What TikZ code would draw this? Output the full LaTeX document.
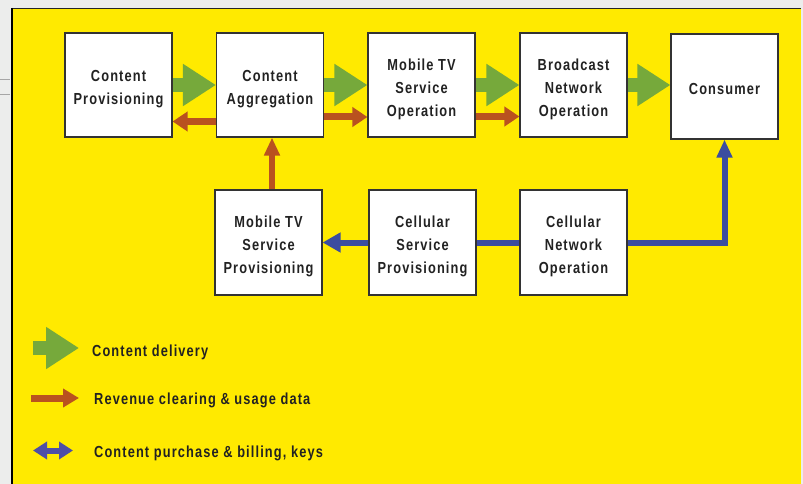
\documentclass[tikz,border=0pt]{standalone}
\usepackage{fontspec}
\setmainfont{Liberation Sans}[FakeStretch=0.8, LetterSpace=7]
\usetikzlibrary{arrows.meta}
\definecolor{bggray}{HTML}{ECEDEC}
\definecolor{ylw}{HTML}{FFEA00}
\definecolor{grn}{HTML}{76A93B}
\definecolor{org}{HTML}{B9521F}
\definecolor{blu}{HTML}{3B4D9F}
\definecolor{blulg}{HTML}{4E4EA6}
\definecolor{txt}{HTML}{222222}
\newcommand\boxlines[1]{\raisebox{-3.5pt}[\height][\depth]{\begin{tabular}{@{}c@{}}#1\end{tabular}}}
\pgfdeclarelayer{back}
\pgfdeclarelayer{conn}
\pgfsetlayers{back,conn,main}
\begin{document}
\begin{tikzpicture}[x=1pt,y=-1pt,
  box/.style={draw=black!80, line width=1.1pt, fill=white, minimum width=107pt, minimum height=104pt, inner sep=0pt, align=center, font=\bfseries\fontsize{16}{23}\selectfont, text=txt},
  lgtext/.style={anchor=west, inner sep=0pt, font=\bfseries\fontsize{16}{20}\selectfont, text=txt},
  cdarrow/.style={draw=grn, line width=14pt, line cap=butt, -{Triangle[length=33pt,width=40pt,fill=grn]}},
  revarrow/.style={draw=org, line width=7pt, line cap=butt, -{Triangle[length=15pt,width=19pt,fill=org]}},
  buyarrow/.style={draw=blu, line width=6pt, line cap=butt, line join=miter},
]
\useasboundingbox (0,0) rectangle (803,484);
\begin{pgfonlayer}{back}
  \fill[bggray] (0,0) rectangle (803,484);
  \fill[ylw] (12,8) rectangle (801,484);
  \draw[black!85, line width=1.6pt] (11,8.5) -- (801,8.5);
  \draw[black, line width=2pt] (12,8) -- (12,484);
  \draw[gray!70, line width=0.8pt] (0,79) -- (10,79) (0,94) -- (10,94);
\end{pgfonlayer}

\node[box] (cp) at (118.5,85) {\boxlines{Content\\Provisioning}};
\node[box] (ca) at (270,85) {\boxlines{Content\\Aggregation}};
\node[box] (mtso) at (421.5,85) {\boxlines{Mobile TV\\Service\\Operation}};
\node[box] (bno) at (573.5,85) {\boxlines{Broadcast\\Network\\Operation}};
\node[box, minimum height=105pt] (con) at (724.5,86.5) {\boxlines{Consumer}};
\node[box, minimum height=105pt] (mtsp) at (268.5,242.5) {\boxlines{Mobile TV\\Service\\Provisioning}};
\node[box, minimum height=105pt] (csp) at (422.5,242.5) {\boxlines{Cellular\\Service\\Provisioning}};
\node[box, minimum height=105pt] (cno) at (573.5,242.5) {\boxlines{Cellular\\Network\\Operation}};

\begin{pgfonlayer}{conn}
  \draw[cdarrow] (cp.east) -- (ca.west);
  \draw[cdarrow] (ca.east) -- (mtso.west);
  \draw[cdarrow] (mtso.east) -- (bno.west);
  \draw[cdarrow] (bno.east) -- (bno.east -| con.west);
  \draw[revarrow] ([yshift=-36.5pt]ca.west) -- ([yshift=-36.5pt]cp.east);
  \draw[revarrow] ([yshift=-32pt]ca.east) -- ([yshift=-32pt]mtso.west);
  \draw[revarrow] ([yshift=-31.5pt]mtso.east) -- ([yshift=-31.5pt]bno.west);
  \draw[revarrow, -{Triangle[length=18pt,width=15pt,fill=org]}, line width=6pt] ([xshift=3.5pt]mtsp.north) -- ([xshift=2pt]ca.south);
  \draw[buyarrow, -{Triangle[length=18pt,width=19pt,fill=blu]}] (cno.west) -- (mtsp.east);
  \draw[buyarrow, -{Triangle[length=18pt,width=15pt,fill=blu]}] (cno.east) -| (con.south);
\end{pgfonlayer}

% legend
\coordinate (g1) at (33,348);
\coordinate (g2) at (79,348);
\coordinate (r1) at (31,398);
\coordinate (r2) at (79,398);
\coordinate (b1) at (33,450.5);
\coordinate (b2) at (73,450.5);
\draw[cdarrow] (g1) -- (g2);
\draw[revarrow, -{Triangle[length=16pt,width=18pt,fill=org]}] (r1) -- (r2);
\draw[draw=blulg, line width=6pt, {Triangle[length=14pt,width=17pt,fill=blulg]}-{Triangle[length=14pt,width=17pt,fill=blulg]}] (b1) -- (b2);
\node[lgtext] (lg1) at (92,352) {Content delivery};
\node[lgtext] (lg2) at (94,400) {Revenue clearing \& usage data};
\node[lgtext] (lg3) at (94,453) {Content purchase \& billing, keys};
\end{tikzpicture}
\end{document}
